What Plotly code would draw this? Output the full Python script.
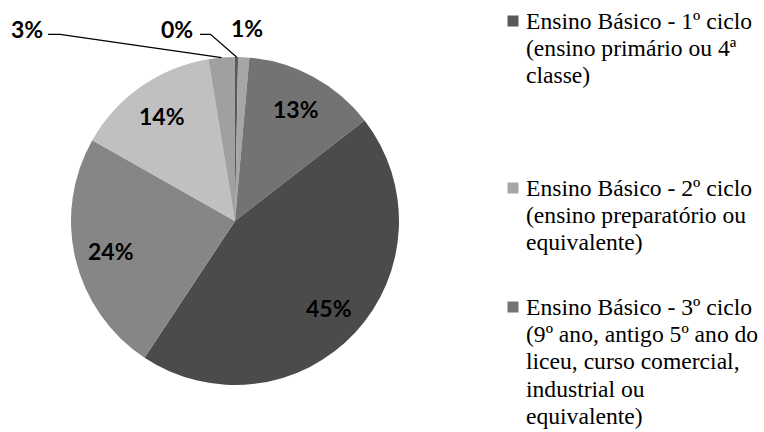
import math
import plotly.graph_objects as go

# ---------------- data ----------------
categories = [
    "Ensino Básico - 1º ciclo (ensino primário ou 4ª classe)",
    "Ensino Básico - 2º ciclo (ensino preparatório ou equivalente)",
    "Ensino Básico - 3º ciclo (9º ano, antigo 5º ano do liceu, curso comercial, industrial ou equivalente)",
    "Ensino Secundário",
    "Licenciatura",
    "Mestrado",
    "Doutoramento",
]
values = [0.3, 1.1, 13.1, 44.8, 23.9, 14.2, 2.6]
slice_colors = ["#595959", "#a6a6a6", "#737373", "#4b4b4b", "#868686", "#c0c0c0", "#a0a0a0"]

legend_lines = [
    ["Ensino Básico - 1º ciclo", "(ensino primário ou 4ª", "classe)"],
    ["Ensino Básico - 2º ciclo", "(ensino preparatório ou", "equivalente)"],
    ["Ensino Básico - 3º ciclo", "(9º ano, antigo 5º ano do", "liceu, curso comercial,",
     "industrial ou", "equivalente)"],
]

# ---------------- layout constants (pixels) ----------------
W, H = 764, 432
CX, CY, R = 235, 221, 164
LABEL_FONT = dict(family="Lato, 'Open Sans', sans-serif", size=23, color="#000000", weight=700)
LEGEND_FONT = dict(family="'Liberation Serif', 'Times New Roman', serif", size=23.6, color="#000000")

legend_first_line_y = [21, 188, 307]
legend_line_gap = 27.2
legend_text_x = 524
legend_square_cx = 513
legend_square_size = 11

# small slices get outside labels (text centre, optional elbow points)
outside_labels = {
    0: dict(text=(177, 29.5), elbow=[(200, 34.3), (210.5, 34.3)]),
    1: dict(text=(247, 28), elbow=None),
    6: dict(text=(27, 29.5), elbow=[(48, 34.3), (60, 34.3)]),
}
inside_r_frac = 0.78


def px(x):
    return x / W


def py(y):
    return 1 - y / H


fig = go.Figure()
fig.add_trace(go.Pie(
    labels=categories,
    values=values,
    sort=False,
    direction="clockwise",
    rotation=0,
    marker=dict(colors=slice_colors, line=dict(width=0)),
    textinfo="none",
    hoverinfo="label+percent",
    showlegend=False,
    domain=dict(x=[px(CX - R), px(CX + R)], y=[py(CY + R), py(CY - R)]),
))

annotations = []
shapes = []
total = sum(values)
cum = 0.0
for i, v in enumerate(values):
    frac = v / total
    mid = (cum + frac / 2) * 2 * math.pi
    cum += frac
    label = f"{round(frac * 100):.0f}%"
    if i in outside_labels:
        cfg = outside_labels[i]
        tx, ty = cfg["text"]
        annotations.append(dict(x=px(tx), y=py(ty), xref="paper", yref="paper", text=label,
                                showarrow=False, xanchor="center", yanchor="middle", font=LABEL_FONT))
        if cfg["elbow"]:
            ex = CX + R * math.sin(mid)
            ey = CY - R * math.cos(mid)
            pts = cfg["elbow"] + [(ex, ey)]
            path = "M " + " L ".join(f"{px(a):.5f},{py(b):.5f}" for a, b in pts)
            shapes.append(dict(type="path", path=path, xref="paper", yref="paper",
                               line=dict(color="#000000", width=1.3)))
    else:
        lx = CX + inside_r_frac * R * math.sin(mid)
        ly = CY - inside_r_frac * R * math.cos(mid)
        annotations.append(dict(x=px(lx), y=py(ly), xref="paper", yref="paper", text=label,
                                showarrow=False, xanchor="center", yanchor="middle", font=LABEL_FONT))

# legend (first three entries visible, as in the original)
for k, lines in enumerate(legend_lines):
    y0 = legend_first_line_y[k]
    s = legend_square_size / 2
    shapes.append(dict(type="rect", xref="paper", yref="paper",
                       x0=px(legend_square_cx - s), x1=px(legend_square_cx + s),
                       y0=py(y0 + s), y1=py(y0 - s),
                       fillcolor=slice_colors[k], line=dict(width=0)))
    for j, t in enumerate(lines):
        annotations.append(dict(x=px(legend_text_x), y=py(y0 + j * legend_line_gap),
                                xref="paper", yref="paper", text=t, showarrow=False,
                                xanchor="left", yanchor="middle", font=LEGEND_FONT))

fig.update_layout(
    width=W, height=H,
    margin=dict(l=0, r=0, t=0, b=0),
    paper_bgcolor="#ffffff",
    plot_bgcolor="#ffffff",
    annotations=annotations,
    shapes=shapes,
    showlegend=False,
)

fig.write_html("out.html", config={"displayModeBar": False},
               post_script="document.body.style.margin='0';")
